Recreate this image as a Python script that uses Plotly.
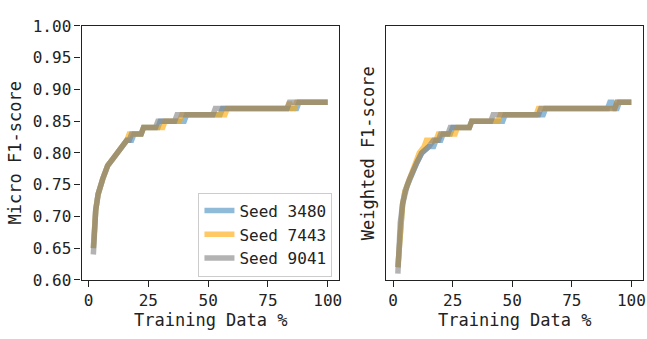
import plotly.graph_objects as go

# ---------------- data ----------------
seeds = ["Seed 3480", "Seed 7443", "Seed 9041"]

# Micro F1-score
micro_x_3480 = [2, 3, 4, 5, 6, 7, 8, 10, 12, 14, 16, 18, 19, 22, 23, 29, 30, 40, 41, 55, 56, 87, 88, 100]
micro_y_3480 = [0.65, 0.71, 0.735, 0.75, 0.76, 0.77, 0.78, 0.79, 0.80, 0.81, 0.82, 0.82, 0.83, 0.83, 0.84,
                0.84, 0.85, 0.85, 0.86, 0.86, 0.87, 0.87, 0.88, 0.88]
micro_x_7443 = [2, 3, 4, 5, 6, 7, 8, 10, 12, 14, 16, 17, 22, 23, 31, 32, 38, 39, 57, 58, 83, 84, 85, 86, 87, 100]
micro_y_7443 = [0.65, 0.71, 0.735, 0.75, 0.76, 0.77, 0.78, 0.79, 0.80, 0.81, 0.82, 0.83, 0.83, 0.84, 0.84,
                0.85, 0.85, 0.86, 0.86, 0.87, 0.87, 0.88, 0.87, 0.87, 0.88, 0.88]
micro_x_9041 = [2, 3, 4, 5, 6, 7, 8, 10, 12, 14, 16, 17, 18, 22, 23, 28, 29, 36, 37, 52, 53, 83, 84, 100]
micro_y_9041 = [0.64, 0.71, 0.735, 0.75, 0.76, 0.77, 0.78, 0.79, 0.80, 0.81, 0.82, 0.82, 0.83, 0.83, 0.84,
                0.84, 0.85, 0.85, 0.86, 0.86, 0.87, 0.87, 0.88, 0.88]

# Weighted F1-score
weighted_x_3480 = [2, 3, 4, 5, 6, 7, 8, 9, 10, 12, 15, 17, 18, 20, 21, 24, 25, 32, 33, 46, 47, 63, 64, 90, 91, 92,
                   93, 94, 95, 100]
weighted_y_3480 = [0.62, 0.69, 0.72, 0.74, 0.75, 0.76, 0.77, 0.78, 0.785, 0.80, 0.81, 0.81, 0.82, 0.82, 0.83, 0.83,
                   0.84, 0.84, 0.85, 0.85, 0.86, 0.86, 0.87, 0.87, 0.88, 0.88, 0.87, 0.87, 0.88, 0.88]
weighted_x_7443 = [2, 3, 4, 5, 6, 7, 8, 9, 10, 11, 13, 14, 18, 19, 26, 27, 32, 33, 44, 45, 60, 61, 93, 94, 100]
weighted_y_7443 = [0.62, 0.69, 0.72, 0.74, 0.75, 0.76, 0.77, 0.78, 0.79, 0.80, 0.81, 0.82, 0.82, 0.83, 0.83, 0.84,
                   0.84, 0.85, 0.85, 0.86, 0.86, 0.87, 0.87, 0.88, 0.88]
weighted_x_9041 = [2, 3, 4, 5, 6, 7, 8, 9, 10, 12, 15, 17, 19, 20, 23, 24, 32, 33, 41, 42, 61, 62, 93, 94, 100]
weighted_y_9041 = [0.61, 0.69, 0.72, 0.74, 0.75, 0.76, 0.77, 0.78, 0.785, 0.80, 0.81, 0.82, 0.82, 0.83, 0.83, 0.84,
                   0.84, 0.85, 0.85, 0.86, 0.86, 0.87, 0.87, 0.88, 0.88]

x_tick_vals = [0, 25, 50, 75, 100]
y_tick_vals = [0.60, 0.65, 0.70, 0.75, 0.80, 0.85, 0.90, 0.95, 1.00]
y_tick_text = ["0.60", "0.65", "0.70", "0.75", "0.80", "0.85", "0.90", "0.95", "1.00"]

# ---------------- styling ----------------
colors = ["rgba(31,119,180,0.5)", "rgba(255,165,0,0.6)", "rgba(128,128,128,0.6)"]
FONT = "DejaVu Sans Mono"
FS = 16
W, H = 647, 339

fig = go.Figure()

micro = [(micro_x_3480, micro_y_3480), (micro_x_7443, micro_y_7443), (micro_x_9041, micro_y_9041)]
weighted = [(weighted_x_3480, weighted_y_3480), (weighted_x_7443, weighted_y_7443),
            (weighted_x_9041, weighted_y_9041)]

for name, c, (xs, ys) in zip(seeds, colors, micro):
    fig.add_trace(go.Scatter(x=xs, y=ys, mode="lines", name=name,
                             line=dict(color=c, width=5.5), xaxis="x", yaxis="y",
                             showlegend=True))
for name, c, (xs, ys) in zip(seeds, colors, weighted):
    fig.add_trace(go.Scatter(x=xs, y=ys, mode="lines", name=name,
                             line=dict(color=c, width=5.5), xaxis="x2", yaxis="y2",
                             showlegend=False))

left_dom = [82 / W, 341 / W]
right_dom = [388 / W, 646 / W]
y_dom = [1 - 287 / H, 1 - 18 / H]

axis_common = dict(showgrid=False, zeroline=False, showline=True, mirror=True,
                   linecolor="#222", linewidth=1.3, tickcolor="#222", tickwidth=1.2,
                   tickfont=dict(family=FONT, size=FS, color="#222"))

fig.update_layout(
    width=W, height=H,
    margin=dict(l=0, r=0, t=0, b=0),
    paper_bgcolor="white", plot_bgcolor="white",
    font=dict(family=FONT, size=FS, color="#222"),
    xaxis=dict(domain=left_dom, range=[-2.9, 104.9], tickvals=x_tick_vals, ticks="outside", ticklen=6,
               anchor="y", **axis_common),
    yaxis=dict(domain=y_dom, range=[0.6, 1.0], tickvals=y_tick_vals, ticktext=y_tick_text,
               ticks="outside", ticklen=6, anchor="x", **axis_common),
    xaxis2=dict(domain=right_dom, range=[-2.9, 104.9], tickvals=x_tick_vals, ticks="outside", ticklen=6,
                anchor="y2", **axis_common),
    yaxis2=dict(domain=y_dom, range=[0.6, 1.0], tickvals=y_tick_vals, ticks="", showticklabels=False,
                anchor="x2", **axis_common),
    legend=dict(x=334 / W, y=1 - 283.5 / H, xanchor="right", yanchor="bottom",
                bgcolor="rgba(255,255,255,0.8)", bordercolor="#cccccc", borderwidth=1,
                font=dict(family=FONT, size=FS, color="#222"), tracegroupgap=0, itemwidth=30),
    showlegend=True,
)

annos = [
    dict(text="Micro F1-score", x=15.5 / W, y=1 - 152.5 / H, textangle=-90),
    dict(text="Weighted F1-score", x=370 / W, y=1 - 152.5 / H, textangle=-90),
    dict(text="Training Data %", x=211.5 / W, y=1 - 329.5 / H, textangle=0),
    dict(text="Training Data %", x=517 / W, y=1 - 329.5 / H, textangle=0),
]
for a in annos:
    fig.add_annotation(xref="paper", yref="paper", showarrow=False, xanchor="center", yanchor="middle",
                       font=dict(family=FONT, size=FS + 1, color="#222"), **a)

fig.write_html("out.html")
